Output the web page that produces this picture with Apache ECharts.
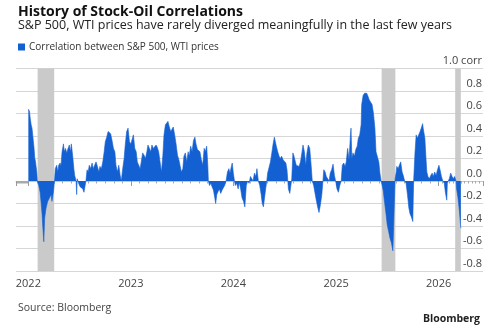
<!DOCTYPE html>
<html><head><meta charset="utf-8">
<script src="https://cdn.jsdelivr.net/npm/echarts@6/dist/echarts.min.js"></script>
<style>html,body{margin:0;padding:0;background:#fff}#c{width:500px;height:325px}</style>
</head><body><div id="c"></div>
<script>
// Days since 2022-01-01 for each reading
const dayOffsets = [0,4,6,10,13,18,20,23,25,27,30,32,37,42,45,49,51,55,58,63,69,75,81,84,89,93,96,101,105,108,113,116,120,125,128,132,137,140,146,150,153,158,162,165,170,172,174,179,184,189,194,198,202,205,209,213,217,222,227,231,236,241,246,251,255,260,265,270,274,279,284,288,293,298,303,308,312,317,322,327,331,336,341,345,350,355,360,365,368,374,379,384,388,393,398,402,407,412,417,422,426,431,436,440,445,450,455,459,464,469,474,479,483,488,493,497,502,507,512,516,521,526,531,536,540,545,550,554,559,564,569,573,578,583,588,593,597,602,607,611,616,621,626,630,635,639,641,645,650,654,659,664,667,671,676,680,685,690,694,699,704,709,714,718,723,726,730,734,737,742,747,751,756,761,766,771,773,776,781,786,791,796,800,805,810,814,817,819,824,829,833,837,840,845,849,852,857,862,867,871,876,880,883,888,893,897,902,907,912,917,921,924,926,931,934,938,942,945,950,954,959,964,969,974,978,983,988,992,997,1002,1007,1011,1016,1021,1026,1031,1035,1040,1045,1049,1052,1057,1061,1066,1071,1075,1080,1085,1090,1095,1099,1104,1109,1114,1118,1123,1128,1132,1137,1142,1147,1149,1152,1156,1161,1166,1171,1175,1180,1185,1187,1192,1197,1199,1205,1210,1214,1219,1224,1229,1234,1238,1243,1248,1252,1256,1260,1264,1269,1274,1278,1283,1288,1293,1298,1300,1302,1306,1310,1312,1317,1321,1326,1331,1335,1340,1345,1350,1355,1359,1364,1369,1372,1377,1381,1385,1390,1395,1399,1404,1406,1412,1416,1419,1423,1428,1433,1438,1442,1447,1452,1457,1462,1466,1471,1476,1481,1485,1490,1492,1495,1499,1504,1509,1513,1518,1523,1525,1530,1535,1540];
const corrValues = [0.64,0.62,0.57,0.50,0.47,0.46,0.30,0.20,0.18,0.17,0.08,0.00,-0.04,-0.10,-0.18,-0.30,-0.39,-0.54,-0.33,-0.24,-0.18,-0.15,-0.12,-0.18,-0.10,0.00,0.11,0.14,0.08,0.14,0.16,0.13,0.26,0.33,0.26,0.29,0.25,0.28,0.32,0.26,0.33,0.22,0.11,0.05,0.00,-0.12,0.02,-0.02,-0.05,-0.04,-0.07,-0.10,-0.11,0.00,0.10,0.08,0.14,0.11,0.16,0.11,0.14,0.17,0.13,0.08,0.13,0.11,0.17,0.26,0.35,0.39,0.44,0.45,0.42,0.36,0.29,0.26,0.14,0.08,0.14,0.05,0.00,0.11,0.20,0.32,0.44,0.47,0.35,0.33,0.33,0.41,0.29,0.26,0.17,0.14,0.11,0.17,0.25,0.23,0.20,0.26,0.32,0.33,0.26,0.32,0.29,0.28,0.32,0.30,0.26,0.17,0.08,0.23,0.41,0.50,0.51,0.53,0.48,0.44,0.45,0.48,0.41,0.33,0.23,0.19,0.14,0.08,0.11,0.22,0.25,0.17,0.26,0.22,0.31,0.26,0.36,0.39,0.33,0.28,0.29,0.26,0.19,0.14,0.29,0.26,0.31,0.14,0.00,-0.04,-0.02,-0.05,-0.08,-0.15,-0.20,-0.12,-0.09,-0.07,-0.11,-0.08,-0.09,-0.04,0.00,0.08,0.11,0.07,0.13,0.16,0.07,0.00,-0.04,-0.02,-0.07,-0.01,-0.07,-0.15,-0.18,-0.23,-0.24,-0.04,0.00,-0.02,0.04,0.05,0.00,0.07,0.04,0.11,0.12,0.00,-0.04,-0.12,-0.20,-0.23,-0.17,-0.07,0.00,0.07,0.08,0.17,0.25,0.32,0.39,0.38,0.31,0.26,0.22,0.20,0.22,0.19,0.20,0.16,0.10,0.00,-0.07,-0.11,-0.12,0.02,0.25,0.23,0.22,0.14,0.14,0.13,0.17,0.25,0.32,0.26,0.14,0.25,0.32,0.29,0.14,0.00,-0.04,-0.11,-0.18,-0.24,-0.28,-0.21,-0.12,0.00,0.10,0.08,0.04,0.05,0.00,0.07,0.10,0.15,0.05,-0.01,-0.07,-0.10,-0.04,0.00,0.14,0.16,0.13,0.17,0.29,0.19,0.41,0.47,0.20,0.25,0.22,0.28,0.31,0.38,0.41,0.50,0.68,0.76,0.78,0.79,0.78,0.75,0.72,0.70,0.68,0.60,0.47,0.26,0.25,0.17,0.07,0.00,-0.04,-0.09,-0.20,-0.30,-0.39,-0.45,-0.51,-0.55,-0.62,-0.61,-0.30,0.02,0.08,0.13,0.11,0.14,0.17,0.08,0.05,0.00,-0.02,-0.12,-0.24,-0.29,-0.32,-0.36,0.00,0.26,0.41,0.38,0.41,0.44,0.47,0.51,0.47,0.38,0.20,0.08,0.04,0.02,0.05,0.07,0.04,0.08,0.05,0.10,0.14,0.10,0.04,0.00,-0.02,-0.10,-0.17,-0.02,0.00,0.02,0.07,0.04,0.02,0.04,0.00,-0.07,-0.15,-0.27,-0.42];
const shadedStarts = ['2022-02-03','2025-06-12','2026-03-01'];
const shadedEnds   = ['2022-04-03','2025-07-31','2026-03-21'];
const yTicks = {min:-0.8, max:1.0, step:0.2};
const titleText = 'History of Stock-Oil Correlations';
const subtitleText = 'S&P 500, WTI prices have rarely diverged meaningfully in the last few years';
const seriesName = 'Correlation between S&P 500, WTI prices';

const base = Date.UTC(2022,0,1);
const seriesData = dayOffsets.map((d,i)=>[base + d*86400000, corrValues[i]]);
const bands = shadedStarts.map((s,i)=>[{xAxis:s},{xAxis:shadedEnds[i]}]);
const BLUE = '#1360d2';
const FONT = 'Open Sans';

const chart = echarts.init(document.getElementById('c'), null, {renderer:'canvas'});
chart.setOption({
  useUTC: true,
  animation: false,
  textStyle:{fontFamily:FONT},
  title: [
    {text:titleText, left:13, top:0, textStyle:{fontFamily:FONT, fontSize:14, fontWeight:'bold', color:'#111'}},
    {text:subtitleText, left:13, top:14, textStyle:{fontFamily:FONT, fontSize:12.5, fontWeight:'normal', color:'#222'}},
    {text:'Source: Bloomberg', left:13, top:298, textStyle:{fontFamily:FONT, fontSize:10.5, fontWeight:'normal', color:'#444'}},
    {text:'Bloomberg', right:15, top:309, textStyle:{fontFamily:FONT, fontSize:10.5, fontWeight:'bold', color:'#222'}}
  ],
  legend: {left:13, top:37, itemWidth:7, itemHeight:7, icon:'rect', itemGap:6,
    textStyle:{fontFamily:FONT, fontSize:10, color:'#333', padding:[0,0,0,-1]}, data:[seriesName]},
  grid: {left:16, right:17, top:68.5, bottom:54, containLabel:false},
  xAxis: {
    type:'time', min:'2021-11-18', max:'2026-06-08',
    minInterval: 365*86400000, maxInterval: 366*86400000,
    axisLine:{show:true, lineStyle:{color:'#c8c8c8', width:1}},
    axisTick:{show:true, length:5, lineStyle:{color:'#999'}},
    minorTick:{show:true, splitNumber:12, length:2.5, lineStyle:{color:'#aaa'}},
    splitLine:{show:false},
    axisLabel:{formatter:'{yyyy}', fontFamily:FONT, fontSize:11, color:'#444', margin:7}
  },
  yAxis: {
    type:'value', position:'right', min:yTicks.min, max:yTicks.max, interval:yTicks.step,
    axisLine:{show:false}, axisTick:{show:false},
    splitLine:{show:true, lineStyle:{color:'#d6d6d6', width:1}},
    axisLabel:{inside:true, margin:1, align:'right', verticalAlign:'bottom', padding:[0,0,2,0],
      fontFamily:FONT, fontSize:11, color:'#444',
      formatter:function(v){ if(Math.abs(v-1)<1e-9) return '1.0 corr'; if(Math.abs(v)<1e-9) return '0.0'; return v.toFixed(1);} }
  },
  series: [
    {type:'line', name:'bands', data:[], z:1, silent:true,
     markArea:{silent:true, itemStyle:{color:'#cacaca'}, data:bands}},
    {type:'line', name:seriesName, data:seriesData, z:3, showSymbol:false, symbol:'none',
     itemStyle:{color:BLUE}, lineStyle:{color:BLUE, width:0.6},
     areaStyle:{color:BLUE, opacity:1, origin:0}}
  ]
});
</script></body></html>
